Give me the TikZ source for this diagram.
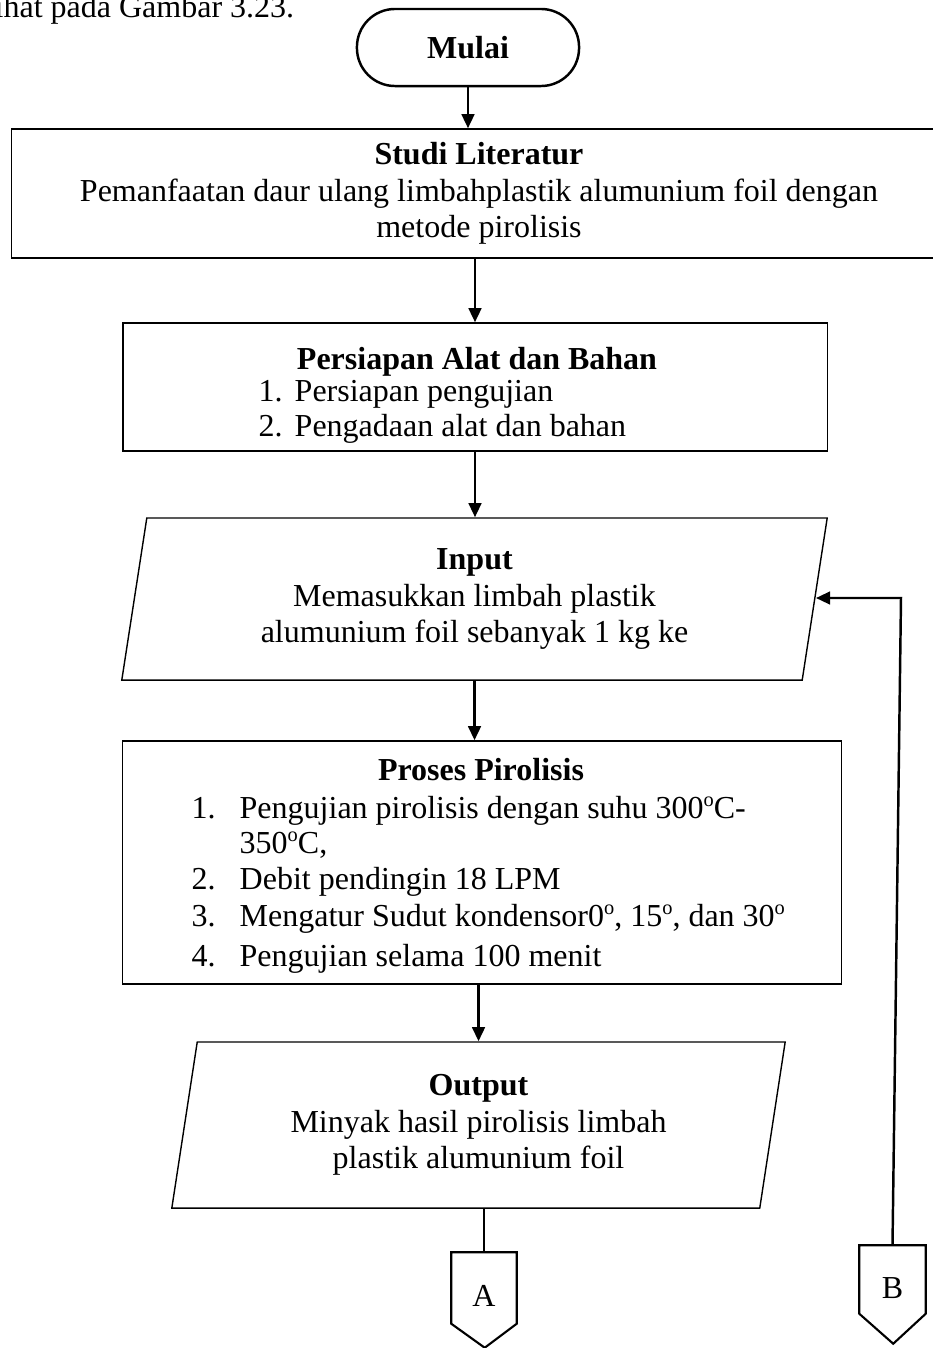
\documentclass[tikz,border=0pt]{standalone}
\usepackage{fontspec}
\setmainfont{Liberation Serif}
\usetikzlibrary{arrows.meta,shapes.geometric}

\newcommand{\drj}{\raisebox{0.8ex}{\fontsize{5.8}{6}\selectfont o}}

\tikzset{
	every node/.style={font=\fontsize{9.1}{10.3}\selectfont},
	judul/.style={font=\fontsize{9.1}{10.3}\selectfont\bfseries},
	box/.style={draw, line width=0.4pt, rectangle, inner sep=0pt},
	io/.style={draw, line width=0.4pt, trapezium, trapezium stretches body, inner sep=0pt, align=center},
	sambung/.style={rectangle, inner sep=0pt, text height=0.37cm, text depth=0pt},
	arr/.style={line width=0.7pt, -{Triangle[length=4pt,width=3.6pt]}},
}

\begin{document}
\begin{tikzpicture}[x=0.01cm, y=-0.01cm]
		\useasboundingbox (0,0) rectangle (933,1348);
		\node[anchor=base west, inner sep=0pt] (teks) at (-6,17) {ihat pada Gambar 3.23.};

		\node[draw, line width=0.7pt, rounded corners=0.38cm, minimum width=2.22cm, minimum height=0.77cm, judul] (mulai) at (468,47.5) {Mulai};

		\node[box, minimum width=9.34cm, minimum height=1.29cm, align=center] (studi) at (479,193.5)
			{\textbf{Studi Literatur}\\Pemanfaatan daur ulang limbahplastik alumunium foil dengan\\metode pirolisis};

		\node[box, minimum width=7.04cm, minimum height=1.28cm] (persiapan) at (475,387) {};
		\node[judul, anchor=base, inner sep=0pt] (persiapan-judul) at (477,369) {Persiapan Alat dan Bahan};
		\foreach[count=\i] \y/\t in {401/Persiapan pengujian, 436/Pengadaan alat dan bahan} {
			\node[anchor=base west, inner sep=0pt] (persiapan-no\i) at (258,\y) {\i.};
			\node[anchor=base west, inner sep=0pt] (persiapan-isi\i) at (294,\y) {\t};
		}

		\node[io, trapezium left angle=76, trapezium right angle=104, minimum width=7.05cm, minimum height=1.62cm] (input) at (474.5,599)
			{\textbf{Input}\\Memasukkan limbah plastik\\alumunium foil sebanyak 1 kg ke};

		\node[box, minimum width=7.18cm, minimum height=2.43cm] (proses) at (482,862.5) {};
		\node[judul, anchor=base, inner sep=0pt] (proses-judul) at (481,780) {Proses Pirolisis};
		\foreach \y/\n in {818/1., 889/2., 926/3., 966/4.} {
			\node[anchor=base west, inner sep=0pt] (proses-no\y) at (191,\y) {\n};
		}
		\foreach \y/\t in {
			818/Pengujian pirolisis dengan suhu 300\drj C-,
			853/350\drj C{,},
			889/Debit pendingin 18 LPM,
			926/{Mengatur Sudut kondensor0\drj, 15\drj, dan 30\drj},
			966/Pengujian selama 100 menit
		} {
			\node[anchor=base west, inner sep=0pt] (proses-isi\y) at (239,\y) {\t};
		}

		\node[io, trapezium left angle=75.8, trapezium right angle=104.2, minimum width=6.13cm, minimum height=1.66cm] (output) at (478.5,1125)
			{\textbf{Output}\\Minyak hasil pirolisis limbah\\plastik alumunium foil};

		% konektor ke halaman berikutnya
		\node[sambung, minimum width=0.64cm, minimum height=0.70cm] (sambungA) at (484,1288) {A};
		\draw[line width=0.6pt] (sambungA.south west) -- (sambungA.north west) -- (sambungA.north east)
			-- (sambungA.south east) -- ++(-32,24) -- cycle;
		\node[sambung, minimum width=0.65cm, minimum height=0.67cm] (sambungB) at (892.5,1279.5) {B};
		\draw[line width=0.6pt] (sambungB.south west) -- (sambungB.north west) -- (sambungB.north east)
			-- (sambungB.south east) -- ++(-32.5,30) -- cycle;

		\coordinate (belok) at (901,598);
		\coordinate (masuk) at (816,598);

		\draw[arr] (mulai) -- (mulai |- studi.north);
		\draw[arr] (studi.south -| persiapan) -- (persiapan);
		\draw[arr] (persiapan) -- (persiapan |- input.north);
		\draw[arr] (input.south) -- (input.south |- proses.north);
		\draw[arr] (output.north |- proses.south) -- (output.north);
		\draw[line width=0.4pt] (sambungA.north |- output.south) -- (sambungA.north);
		\draw[arr] (sambungB.north) -- (belok) -- (masuk);
	\end{tikzpicture}
\end{document}
